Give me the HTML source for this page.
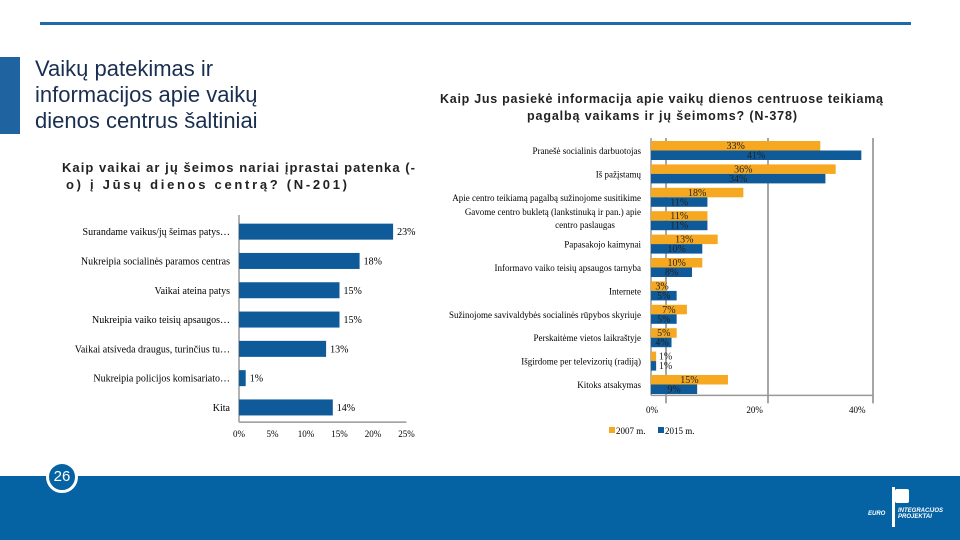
<!DOCTYPE html>
<html><head><meta charset="utf-8">
<style>
body{margin:0;width:960px;height:540px;overflow:hidden;background:#fff;font-family:"Liberation Sans",sans-serif;position:relative}
.abs{position:absolute}
</style></head>
<body>
<div class="abs" style="left:40px;top:22px;width:871px;height:3px;background:#1f6aa8"></div>
<div class="abs" style="left:0;top:57px;width:20px;height:77px;background:#1f64a0"></div>
<div class="abs" style="left:35px;top:56px;font-size:22px;line-height:26px;color:#1a2f50">Vaikų patekimas ir<br>informacijos apie vaikų<br>dienos centrus šaltiniai</div>
<div class="abs" style="left:0;top:476px;width:960px;height:64px;background:#0563a4"></div>
<div class="abs" style="left:46px;top:461px;width:26px;height:26px;border:3px solid #fff;border-radius:50%;background:#0563a4;color:#fff;font-size:15px;line-height:26px;text-align:center">26</div>
<div class="abs" style="left:868px;top:487px;width:60px;height:40px;color:#fff;font-size:6px;font-weight:bold;font-style:italic">
 <div style="position:absolute;left:24px;top:0;width:3px;height:40px;background:#fff"></div>
 <div style="position:absolute;left:27px;top:2px;width:14px;height:14px;background:#fff;border-radius:2px"></div>
 <div style="position:absolute;left:0;top:24px">EURO</div>
 <div style="position:absolute;left:30px;top:21px">INTEGRACIJOS<br>PROJEKTAI</div>
</div>
<svg class="abs" style="left:0;top:0" width="960" height="540" id="chart"></svg>
<script>
const leftCats=["Surandame vaikus/jų šeimas patys…","Nukreipia socialinės paramos centras","Vaikai ateina patys","Nukreipia vaiko teisių apsaugos…","Vaikai atsiveda draugus, turinčius tu…","Nukreipia policijos komisariato…","Kita"];
const leftVals=[23,18,15,15,13,1,14];
const leftTicks=[0,5,10,15,20,25];
const rightCats=["Pranešė socialinis darbuotojas","Iš pažįstamų","Apie centro teikiamą pagalbą sužinojome susitikime","Gavome centro bukletą (lankstinuką ir pan.) apie|centro paslaugas","Papasakojo kaimynai","Informavo vaiko teisių apsaugos tarnyba","Internete","Sužinojome savivaldybės socialinės rūpybos skyriuje","Perskaitėme vietos laikraštyje","Išgirdome per televizorių (radiją)","Kitoks atsakymas"];
const vals2007=[33,36,18,11,13,10,3,7,5,1,15];
const vals2015=[41,34,11,11,10,8,5,5,4,1,9];
const rightTicks=[0,20,40];

const svg=document.getElementById('chart');
const NS='http://www.w3.org/2000/svg';
function mk(tag,attrs,name,text){const e=document.createElementNS(NS,tag);for(const k in attrs)e.setAttribute(k,attrs[k]);


if(text!==undefined)e.textContent=text;svg.appendChild(e);return e;}
const serif='"Liberation Serif",serif';
const sans='"Liberation Sans",sans-serif';
// titles
mk('text',{x:440,y:103,'font-size':12.5,'font-weight':'bold',textLength:443,lengthAdjust:'spacing','font-family':sans,fill:'#222'},'right-chart-title','Kaip Jus pasiekė informacija apie vaikų dienos centruose teikiamą');
mk('text',{x:527,y:120,'font-size':12.5,'font-weight':'bold',textLength:270,lengthAdjust:'spacing','font-family':sans,fill:'#222'},'right-chart-title-2','pagalbą vaikams ir jų šeimoms? (N-378)');
mk('text',{x:62,y:172,'font-size':13,'font-weight':'bold',textLength:353,lengthAdjust:'spacing','font-family':sans,fill:'#222'},'left-chart-title','Kaip vaikai ar jų šeimos nariai įprastai patenka (-');
mk('text',{x:66,y:189,'font-size':13,'font-weight':'bold',textLength:281,lengthAdjust:'spacing','font-family':sans,fill:'#222'},'left-chart-title-2','o) į Jūsų dienos centrą? (N-201)');

// left chart
const lx0=239, lpx=6.7, ly0=217, lrow=29.3;
const lx=v=>lx0+v*lpx;
mk('line',{x1:lx0,y1:ly0-2,x2:lx0,y2:ly0+lrow*7,stroke:'#999','stroke-width':1.5},'left-y-axis');
mk('line',{x1:lx0,y1:ly0+lrow*7,x2:lx(25),y2:ly0+lrow*7,stroke:'#999','stroke-width':1.5},'left-x-axis');
leftTicks.forEach(t=>mk('text',{x:lx(t),y:437,'font-size':9,'text-anchor':'middle','font-family':serif},'left-x-tick',t+'%'));
leftCats.forEach((c,i)=>{
 const yc=ly0+lrow*i+lrow/2;
 mk('rect',{x:lx0,y:yc-8,width:lx(leftVals[i])-lx0,height:16,fill:'#0f5a99'},'left-bar');
 mk('text',{x:lx(leftVals[i])+4,y:yc+3.5,'font-size':10,'font-family':serif},'left-bar-label',leftVals[i]+'%');
 mk('text',{x:230,y:yc+3.5,'font-size':10,'text-anchor':'end','font-family':serif},'left-category',c);
});

// right chart
const rx0=651, rpx=5.13, ry0=138, rrow=23.4;
const rx=v=>rx0+v*rpx;
mk('line',{x1:rx0,y1:ry0,x2:rx0,y2:ry0+rrow*11,stroke:'#999','stroke-width':1.5},'right-y-axis');
[666,768,873].forEach(x=>mk('line',{x1:x,y1:ry0,x2:x,y2:ry0+rrow*11+8,stroke:'#888','stroke-width':1.5},'right-gridline'));
mk('line',{x1:rx0,y1:ry0+rrow*11,x2:873,y2:ry0+rrow*11,stroke:'#999','stroke-width':1.5},'right-x-axis');
rightTicks.forEach(t=>mk('text',{x:rx(t)+1,y:413,'font-size':9,'text-anchor':'middle','font-family':serif},'right-x-tick',t+'%'));
rightCats.forEach((c,i)=>{
 const yt=ry0+rrow*i+3;
 mk('rect',{x:rx0,y:yt,width:rx(vals2007[i])-rx0,height:9.5,fill:'#f5a820'},'bar-2007');
 mk('rect',{x:rx0,y:yt+9.5,width:rx(vals2015[i])-rx0,height:9.5,fill:'#0f5a99'},'bar-2015');
 mk('text',{x:Math.max((rx0+rx(vals2007[i]))/2+(vals2007[i]<3?12:0),662),y:yt+8,'font-size':10,'text-anchor':'middle','font-family':serif,fill:'#222'},'label-2007',vals2007[i]+'%');
 mk('text',{x:Math.max((rx0+rx(vals2015[i]))/2+(vals2015[i]<3?12:0),662),y:yt+17.5,'font-size':10,'text-anchor':'middle','font-family':serif,fill:'#222'},'label-2015',vals2015[i]+'%');
 const parts=c.split('|');
 parts.forEach((p,j)=>mk('text',{x:parts.length>1?(j?585:641):641,y:yt+(parts.length>1?4+j*13:13),'font-size':9,'text-anchor':parts.length>1&&j?'middle':'end','font-family':serif},'right-category',p));
});
// legend
mk('rect',{x:609,y:427,width:6,height:6,fill:'#f5a820'},'legend-swatch-2007');
mk('text',{x:616,y:434,'font-size':9,'font-family':serif},'legend-2007','2007 m.');
mk('rect',{x:658,y:427,width:6,height:6,fill:'#0f5a99'},'legend-swatch-2015');
mk('text',{x:665,y:434,'font-size':9,'font-family':serif},'legend-2015','2015 m.');
</script>
</body></html>
